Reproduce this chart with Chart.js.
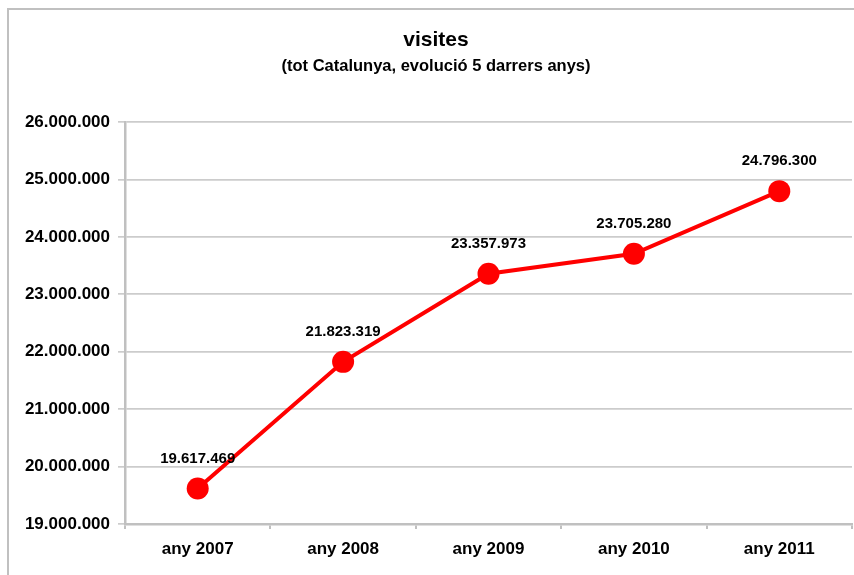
<!DOCTYPE html>
<html>
<head>
<meta charset="utf-8">
<script src="https://cdn.jsdelivr.net/npm/chart.js@4"></script>
<style>
  html, body { margin: 0; padding: 0; background: #fff; overflow: hidden; }
  #wrap { width: 854px; height: 575px; }
</style>
</head>
<body>
<div id="wrap"><canvas id="visitesChart"></canvas></div>
<script>
const anys = ['any 2007', 'any 2008', 'any 2009', 'any 2010', 'any 2011'];
const visites = [19617469, 21823319, 23357973, 23705280, 24796300];
const yMin = 19000000;
const yMax = 26000000;
const yStep = 1000000;

function punts(n) {
  return String(Math.round(n)).replace(/\B(?=(\d{3})+(?!\d))/g, '.');
}

const FONT = '"Liberation Sans", Arial, sans-serif';

// marc gris del gràfic original (surt tallat per la dreta i per baix)
const marcPlugin = {
  id: 'marc',
  beforeDraw(chart) {
    const c = chart.ctx;
    c.save();
    c.fillStyle = '#fff';
    c.fillRect(0, 0, chart.width, chart.height);
    c.strokeStyle = '#c0c0c0';
    c.lineWidth = 2;
    c.strokeRect(8, 9, 900, 700);
    c.restore();
  }
};

const etiquetesPlugin = {
  id: 'etiquetes',
  afterDatasetsDraw(chart) {
    const c = chart.ctx;
    const meta = chart.getDatasetMeta(0);
    c.save();
    c.font = 'bold 15px ' + FONT;
    c.fillStyle = '#000';
    c.textAlign = 'center';
    c.textBaseline = 'middle';
    meta.data.forEach((pt, i) => {
      c.fillText(punts(visites[i]), pt.x, pt.y - 30);
    });
    c.restore();
  }
};

const ctx = document.getElementById('visitesChart').getContext('2d');
const chart = new Chart(ctx, {
  type: 'line',
  data: {
    labels: anys,
    datasets: [{
      label: 'visites',
      data: visites,
      borderColor: '#ff0000',
      backgroundColor: '#ff0000',
      borderWidth: 4,
      pointRadius: 11,
      pointHoverRadius: 11,
      pointBorderWidth: 0,
      tension: 0,
      clip: false
    }]
  },
  options: {
    responsive: true,
    maintainAspectRatio: false,
    animation: false,
    layout: { autoPadding: false, padding: { left: 20, right: 2, top: 0, bottom: 0 } },
    scales: {
      x: {
        offset: true,
        grid: { offset: true, drawOnChartArea: false, drawTicks: true, tickLength: 5, color: '#c0c0c0', lineWidth: 2 },
        border: { display: true, color: '#c0c0c0', width: 2.5 },
        ticks: { color: '#000', font: { family: FONT, size: 17, weight: 'bold' }, padding: 10, maxRotation: 0 },
        afterFit(scale) { scale.height = 51; }
      },
      y: {
        min: yMin,
        max: yMax,
        grid: { color: '#cccccc', lineWidth: 1.7, tickLength: 7 },
        border: { display: true, color: '#c0c0c0', width: 2.5 },
        ticks: {
          stepSize: yStep,
          color: '#000',
          font: { family: FONT, size: 17, weight: 'bold' },
          padding: 8,
          callback: v => punts(v)
        },
        afterFit(scale) { scale.width = 105; }
      }
    },
    plugins: {
      legend: { display: false },
      tooltip: { enabled: false },
      title: {
        display: true,
        text: 'visites',
        color: '#000',
        font: { family: FONT, size: 21, weight: 'bold' },
        padding: { top: 28, bottom: 3 }
      },
      subtitle: {
        display: true,
        text: '(tot Catalunya, evolució 5 darrers anys)',
        color: '#000',
        font: { family: FONT, size: 16.5, weight: 'bold' },
        padding: { top: 0, bottom: 46 }
      }
    }
  },
  plugins: [marcPlugin, etiquetesPlugin]
});
</script>
</body>
</html>
